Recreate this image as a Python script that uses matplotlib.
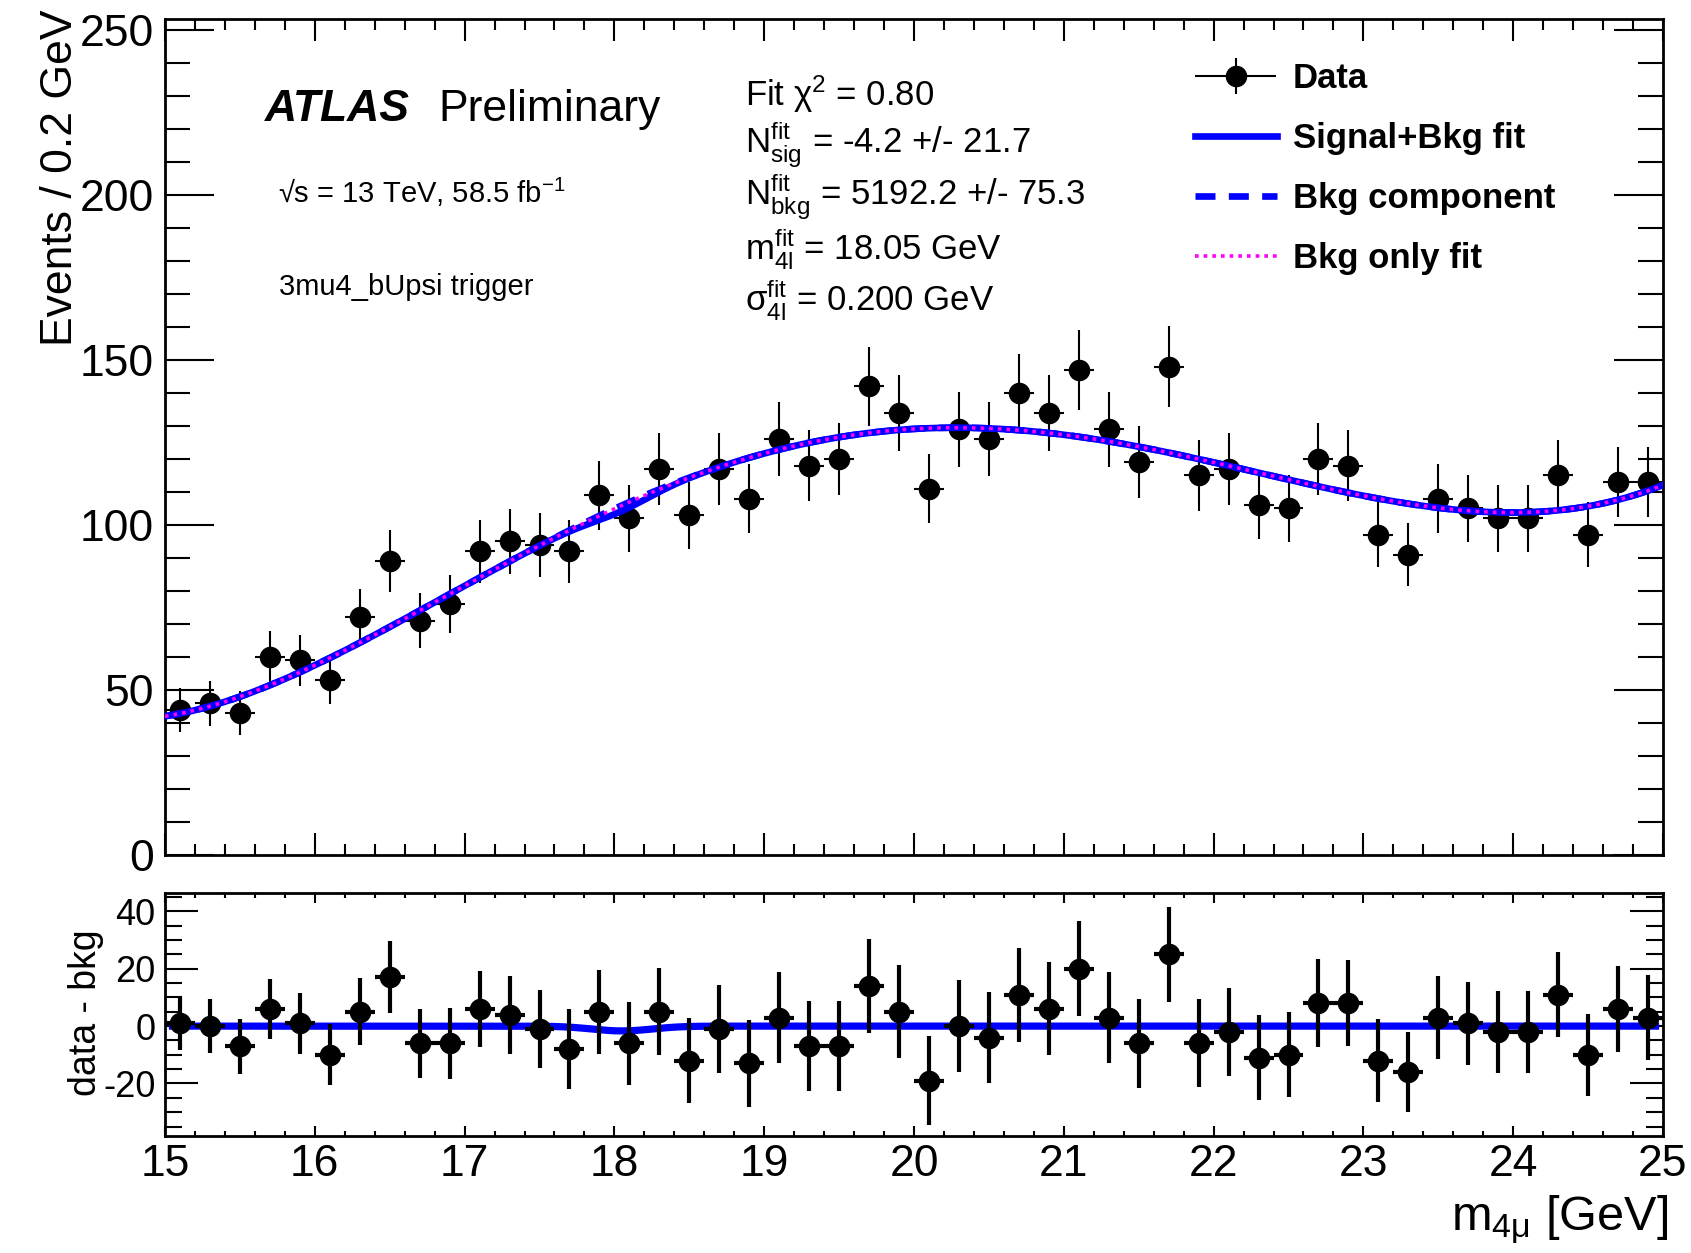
import numpy as np
import matplotlib.pyplot as plt
from matplotlib.ticker import MultipleLocator
from matplotlib.legend_handler import HandlerErrorbar

plt.rcParams['font.family'] = ['Liberation Sans', 'DejaVu Sans']
plt.rcParams['mathtext.fontset'] = 'custom'
plt.rcParams['mathtext.rm'] = 'Liberation Sans'
plt.rcParams['mathtext.it'] = 'Liberation Sans:italic'
plt.rcParams['mathtext.bf'] = 'Liberation Sans:bold'
plt.rcParams['axes.unicode_minus'] = False

# m4mu binning
m_lo, m_hi, n_bins = 15.0, 25.0, 50

# events per 0.2 GeV bin
counts = [44, 46, 43, 60, 59, 53, 72, 89, 71, 76,
          92, 95, 94, 92, 109, 102, 117, 103, 117, 108,
          126, 118, 120, 142, 134, 111, 129, 126, 140, 134,
          147, 129, 119, 148, 115, 117, 106, 105, 120, 118,
          97, 91, 108, 105, 102, 102, 115, 97, 113, 113]

# data minus background-only fit
resid = [1, 0, -7, 6, 1, -10, 5, 17, -6, -6,
         6, 4, -1, -8, 5, -6, 5, -12, -1, -13,
         3, -7, -7, 14, 5, -19, 0, -4, 11, 6,
         20, 3, -6, 25, -6, -2, -11, -10, 8, 8,
         -12, -16, 3, 1, -2, -2, 11, -10, 6, 3]

# background shape at integer masses
bkg_mass = [15, 16, 17, 18, 19, 20, 21, 22, 23, 24, 25]
bkg_level = [42, 57.5, 82, 104, 122, 129.4, 127.4, 118.6, 108.8, 104, 112]

# fit results
fit_chi2 = 0.80
n_sig, n_sig_err = -4.2, 21.7
n_bkg, n_bkg_err = 5192.2, 75.3
m_fit = 18.05
sigma_fit = 0.200

edges = np.linspace(m_lo, m_hi, n_bins + 1)
centers = 0.5 * (edges[1:] + edges[:-1])
bw = edges[1] - edges[0]
counts = np.array(counts, dtype=float)
resid = np.array(resid, dtype=float)

bkg_func = np.polynomial.Polynomial.fit(bkg_mass, bkg_level, 5)


def signal(x):
    norm = n_sig * bw / (sigma_fit * np.sqrt(2 * np.pi))
    return norm * np.exp(-0.5 * ((x - m_fit) / sigma_fit) ** 2)


xs = np.linspace(m_lo, m_hi, 600)
bkg = bkg_func(xs)
sb = bkg + signal(xs)

yerr = np.sqrt(counts)
resid_err = np.sqrt(counts + bkg_func(centers))

W, H = 1691, 1253
fig = plt.figure(figsize=(W / 100, H / 100), dpi=100)


def box(l, t, r, b):
    return [l / W, 1 - b / H, (r - l) / W, (b - t) / H]


def fx(px):
    return px / W


def fy(py):
    return 1 - py / H


ax = fig.add_axes(box(165, 19, 1663, 855))
axr = fig.add_axes(box(165, 893, 1663, 1136), sharex=ax)

# main panel
data = ax.errorbar(centers, counts, yerr=yerr, xerr=bw / 2, fmt='o', color='black',
                   ms=14.5, elinewidth=1.5, capsize=0, zorder=2, label='Data')
l_sb, = ax.plot(xs, sb, color='blue', lw=4.8, zorder=3, label='Signal+Bkg fit')
l_bc, = ax.plot(xs, bkg, color='blue', lw=4.8, ls=(0, (3, 2)), zorder=3,
                label='Bkg component')
l_bo, = ax.plot(xs, bkg, color='magenta', lw=2.6, ls=(0, (1, 1.4)), zorder=4,
                label='Bkg only fit')

ax.set_xlim(m_lo, m_hi)
ax.set_ylim(0, 253.3)
ax.set_yticks(np.arange(0, 251, 50))
ax.yaxis.set_minor_locator(MultipleLocator(10))
ax.xaxis.set_major_locator(MultipleLocator(1))
ax.xaxis.set_minor_locator(MultipleLocator(0.2))
ax.tick_params(axis='y', which='major', direction='in', length=35, width=1.5,
               labelsize=32, pad=8, right=True)
ax.tick_params(axis='y', which='minor', direction='in', length=18, width=1.5, right=True)
ax.tick_params(axis='x', which='major', direction='in', length=16, width=1.5,
               top=True, labelbottom=False)
ax.tick_params(axis='x', which='minor', direction='in', length=8, width=1.5, top=True)

ax.legend(handles=[data, l_sb, l_bc, l_bo], loc='upper left',
          bbox_to_anchor=(fx(1195), fy(62)), bbox_transform=fig.transFigure,
          frameon=False, borderpad=0, borderaxespad=0, handlelength=2.35,
          handletextpad=0.46, labelspacing=0.78,
          handler_map={type(data): HandlerErrorbar(xerr_size=1.17, yerr_size=0.52)},
          prop={'weight': 'bold', 'size': 25})

# ratio panel
xr = np.linspace(m_lo + bw / 4, m_hi - bw / 4, 600)
axr.plot(xr, signal(xr), color='blue', lw=5.2, zorder=2)
axr.errorbar(centers, resid, yerr=resid_err, xerr=bw / 2, fmt='o', color='black',
             ms=14.5, elinewidth=3, capsize=0, zorder=3)
axr.set_ylim(-38.3, 46.4)
axr.set_yticks([-20, 0, 20, 40])
axr.yaxis.set_minor_locator(MultipleLocator(5))
axr.tick_params(axis='y', which='major', direction='in', length=24, width=1.5,
                labelsize=26, pad=7, right=True)
axr.tick_params(axis='y', which='minor', direction='in', length=12, width=1.5, right=True)
axr.tick_params(axis='x', which='major', direction='in', length=7, width=1.5,
                labelsize=32, pad=6, top=True)
axr.tick_params(axis='x', which='minor', direction='in', length=3.5, width=1.5, top=True)

for a in (ax, axr):
    for s in a.spines.values():
        s.set_linewidth(2)

# labels and annotations
fig.text(fx(61), fy(9), 'Events / 0.2 GeV', rotation=90, ha='center', va='top', size=32)
fig.text(fx(86), fy(1013), 'data - bkg', rotation=90, ha='center', va='center', size=27)
fig.text(fx(1668), fy(1230), r'm$_{\mathrm{4μ}}$ [GeV]', ha='right', va='baseline', size=35)

fig.text(fx(265), fy(121), 'ATLAS', weight='bold', style='italic', size=32)
fig.text(fx(438), fy(121), 'Preliminary', size=32)
fig.text(fx(278), fy(203), r'√s = 13 TeV, 58.5 fb$^{\mathrm{-1}}$', size=21)
fig.text(fx(279), fy(295), '3mu4_bUpsi trigger', size=21)

fit_lines = [
    (106, f'Fit χ$^{{2}}$ = {fit_chi2:.2f}'),
    (154, r'$\mathrm{N}^{\mathrm{fit}}_{\mathrm{sig}}$' + f' = {n_sig} +/- {n_sig_err}'),
    (205, r'$\mathrm{N}^{\mathrm{fit}}_{\mathrm{bkg}}$' + f' = {n_bkg} +/- {n_bkg_err}'),
    (259, r'$\mathrm{m}^{\mathrm{fit}}_{\mathrm{4l}}$' + f' = {m_fit:.2f} GeV'),
    (310, r'$\mathrm{σ}^{\mathrm{fit}}_{\mathrm{4l}}$' + f' = {sigma_fit:.3f} GeV'),
]
for yb, txt in fit_lines:
    fig.text(fx(745), fy(yb), txt, size=25, va='baseline')

fig.savefig('out.png', dpi=100)
